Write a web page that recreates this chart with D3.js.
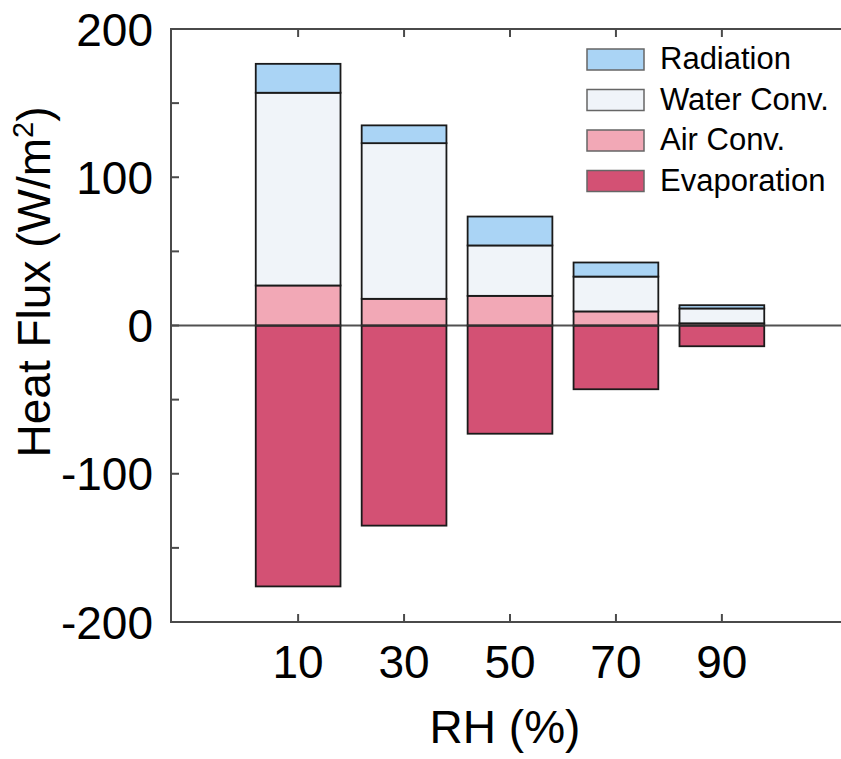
<!DOCTYPE html>
<html>
<head>
<meta charset="utf-8">
<script src="https://cdn.jsdelivr.net/npm/d3@7"></script>
<style>
  body { margin: 0; background: #fff; }
  svg { display: block; font-family: "Liberation Sans", Arial, sans-serif; }
</style>
</head>
<body>
<div id="chart"></div>
<script>
// RH categories (%)
const rhLevels = ["10", "30", "50", "70", "90"];

// heat flux components (W/m2)
const evaporation = [-176, -135, -73, -43, -14];
const airConv = [27, 18, 20, 9.5, 1.5];
const waterConv = [130, 105, 34, 23.5, 10];
const radiation = [19.5, 12, 19.5, 9.5, 2.2];

const seriesNames = ["Radiation", "Water Conv.", "Air Conv.", "Evaporation"];
const seriesColors = ["#aad4f5", "#f0f4f9", "#f2a8b6", "#d35174"];

const yTicks = [-200, -100, 0, 100, 200];
const yMinorTicks = [-150, -50, 50, 150];

const W = 841, H = 759;
const margin = {top: 29, right: -8, bottom: 137, left: 171};

const svg = d3.select("#chart")
  .append("svg")
    .attr("width", W)
    .attr("height", H);

// x scale: point positions for each RH level
const x = d3.scalePoint()
  .domain(rhLevels)
  .range([margin.left, W - margin.right])
  .padding(1.2);
const barW = x.step() * 0.8;

// y scale
const y = d3.scaleLinear()
  .domain([-200, 200])
  .range([H - margin.bottom, margin.top]);

// build stacked rects: positive stack air -> water -> radiation, negative evaporation
const rects = [];
rhLevels.forEach((rh, i) => {
  rects.push({rh: rh, y0: 0, y1: evaporation[i], color: seriesColors[3]});
  let base = 0;
  [[airConv, 2], [waterConv, 1], [radiation, 0]].forEach(([arr, c]) => {
    rects.push({rh: rh, y0: base, y1: base + arr[i], color: seriesColors[c]});
    base += arr[i];
  });
});

svg.append("g")
  .selectAll("rect")
  .data(rects)
  .enter().append("rect")
    .attr("x", d => x(d.rh) - barW / 2)
    .attr("y", d => y(Math.max(d.y0, d.y1)))
    .attr("width", barW)
    .attr("height", d => Math.abs(y(d.y0) - y(d.y1)))
    .attr("fill", d => d.color)
    .attr("stroke", "#1a1a1a")
    .attr("stroke-width", 1.8);

// zero line
svg.append("line")
  .attr("x1", margin.left).attr("x2", W - margin.right)
  .attr("y1", y(0)).attr("y2", y(0))
  .attr("stroke", "#333")
  .attr("stroke-width", 2)
  .attr("stroke-opacity", 0.85);

// frame
const x0 = margin.left, x1 = W - margin.right;
const yTop = y(200), yBot = y(-200);
svg.append("rect")
  .attr("x", x0).attr("y", yTop)
  .attr("width", x1 - x0).attr("height", yBot - yTop)
  .attr("fill", "none")
  .attr("stroke", "#4a4a4a")
  .attr("stroke-width", 2);

const tickLen = 8;
const frameTicks = svg.append("g").attr("stroke", "#4a4a4a").attr("stroke-width", 2);

// y ticks, left and right, inward
yTicks.concat(yMinorTicks).forEach(v => {
  frameTicks.append("line")
    .attr("x1", x0).attr("x2", x0 + tickLen)
    .attr("y1", y(v)).attr("y2", y(v));
  frameTicks.append("line")
    .attr("x1", x1).attr("x2", x1 - tickLen)
    .attr("y1", y(v)).attr("y2", y(v));
});

// x ticks, bottom and top, inward
rhLevels.forEach(rh => {
  frameTicks.append("line")
    .attr("x1", x(rh)).attr("x2", x(rh))
    .attr("y1", yBot).attr("y2", yBot - tickLen);
  frameTicks.append("line")
    .attr("x1", x(rh)).attr("x2", x(rh))
    .attr("y1", yTop).attr("y2", yTop + tickLen);
});

// tick labels
svg.append("g")
  .selectAll("text")
  .data(yTicks)
  .enter().append("text")
    .attr("x", 153)
    .attr("y", d => y(d))
    .attr("dy", "0.36em")
    .attr("text-anchor", "end")
    .attr("font-size", 46)
    .attr("fill", "#000")
    .text(d => d);

svg.append("g")
  .selectAll("text")
  .data(rhLevels)
  .enter().append("text")
    .attr("x", d => x(d))
    .attr("y", 678)
    .attr("text-anchor", "middle")
    .attr("font-size", 46)
    .attr("fill", "#000")
    .text(d => d);

// axis titles
svg.append("text")
  .attr("x", 505)
  .attr("y", 743)
  .attr("text-anchor", "middle")
  .attr("font-size", 46)
  .text("RH (%)");

const yTitle = svg.append("text")
  .attr("transform", "translate(50,282) rotate(-90)")
  .attr("text-anchor", "middle")
  .attr("font-size", 46);
yTitle.append("tspan").text("Heat Flux (W/m");
yTitle.append("tspan").attr("font-size", 29).attr("dy", -17).text("2");
yTitle.append("tspan").attr("dy", 17).text(")");

// legend
const legend = svg.append("g");
seriesNames.forEach((name, i) => {
  const ly = 49 + i * 40.5;
  legend.append("rect")
    .attr("x", 587).attr("y", ly)
    .attr("width", 57).attr("height", 21)
    .attr("fill", seriesColors[i])
    .attr("stroke", "#666")
    .attr("stroke-width", 1.5);
  legend.append("text")
    .attr("x", 660).attr("y", ly + 20)
    .attr("font-size", 31)
    .attr("fill", "#000")
    .text(name);
});
</script>
</body>
</html>
